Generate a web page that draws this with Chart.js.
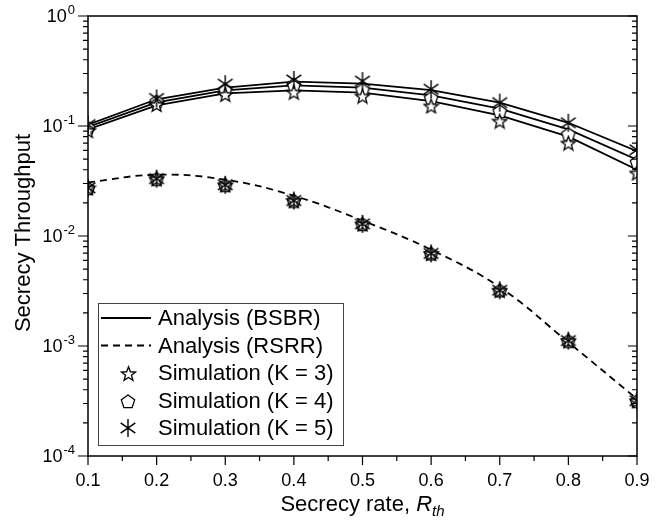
<!DOCTYPE html>
<html>
<head>
<meta charset="utf-8">
<script src="https://cdn.jsdelivr.net/npm/chart.js@4.4.0/dist/chart.umd.min.js"></script>
<style>
  html, body { margin: 0; padding: 0; background: #fff; }
  #wrap { position: relative; width: 662px; height: 527px; }
</style>
</head>
<body>
<div id="wrap"><canvas id="chart"></canvas></div>
<script>
// Secrecy throughput vs secrecy rate (log y axis)

const rates = [0.1, 0.2, 0.3, 0.4, 0.5, 0.6, 0.7, 0.8, 0.9];

// Analysis (BSBR), one curve per K
const bsbrK3 = [0.093, 0.154, 0.198, 0.211, 0.201, 0.168, 0.125, 0.080, 0.0401];
const bsbrK4 = [0.098, 0.164, 0.211, 0.234, 0.223, 0.190, 0.144, 0.093, 0.0494];
const bsbrK5 = [0.103, 0.175, 0.223, 0.253, 0.243, 0.212, 0.163, 0.107, 0.0589];

// Analysis (RSRR)
const rsrr = [0.0307, 0.0361, 0.0325, 0.0232, 0.0138, 0.0075, 0.00342, 0.00108, 0.00033];

// Simulation points
const simBsbrK3 = [0.091, 0.157, 0.194, 0.203, 0.187, 0.152, 0.111, 0.070, 0.0374];
const simBsbrK4 = [0.097, 0.168, 0.215, 0.239, 0.215, 0.181, 0.137, 0.085, 0.0474];
const simBsbrK5 = [0.103, 0.178, 0.240, 0.262, 0.256, 0.216, 0.163, 0.107, 0.0608];
const simRsrr = [0.0274, 0.0332, 0.0292, 0.0210, 0.0129, 0.00695, 0.00321, 0.00112, 0.000318];

// Axis ticks
const xTicks = [0.1, 0.2, 0.3, 0.4, 0.5, 0.6, 0.7, 0.8, 0.9];
const xMinorTicks = [0.15, 0.25, 0.35, 0.45, 0.55, 0.65, 0.75, 0.85];
const yExponents = [-4, -3, -2, -1, 0];

const legendLabels = ['Analysis (BSBR)', 'Analysis (RSRR)', 'Simulation (K = 3)', 'Simulation (K = 4)', 'Simulation (K = 5)'];

const FONT = "'Liberation Sans', Arial, sans-serif";
Chart.defaults.font.family = FONT;
Chart.defaults.color = '#000';

// Marker images
function makeMarker(kind, size) {
    const c = document.createElement('canvas');
    c.width = size; c.height = size;
    const g = c.getContext('2d');
    const cx = size / 2, cy = size / 2, r = size / 2 - 1;
    g.strokeStyle = '#000';
    g.fillStyle = '#fff';
    g.lineWidth = 1.3;
    g.lineJoin = 'miter';
    g.beginPath();
    if (kind === 'star') {
        for (let i = 0; i < 10; i++) {
            const a = -Math.PI / 2 + i * Math.PI / 5;
            const rr = i % 2 === 0 ? r : r * 0.42;
            const px = cx + rr * Math.cos(a), py = cy + 0.8 + rr * Math.sin(a);
            i === 0 ? g.moveTo(px, py) : g.lineTo(px, py);
        }
        g.closePath();
        g.fill();
        g.stroke();
    } else if (kind === 'pentagon') {
        for (let i = 0; i < 5; i++) {
            const a = -Math.PI / 2 + i * 2 * Math.PI / 5;
            const px = cx + r * Math.cos(a), py = cy + r * Math.sin(a) + 1;
            i === 0 ? g.moveTo(px, py) : g.lineTo(px, py);
        }
        g.closePath();
        g.fill();
        g.stroke();
    } else {
        // six-armed asterisk
        g.lineWidth = 1.4;
        [90, 35, 145].forEach(deg => {
            const a = deg * Math.PI / 180;
            g.moveTo(cx - r * Math.cos(a), cy - r * Math.sin(a));
            g.lineTo(cx + r * Math.cos(a), cy + r * Math.sin(a));
        });
        g.stroke();
    }
    return c;
}

const starImg = makeMarker('star', 17);
const pentImg = makeMarker('pentagon', 16);
const astImg = makeMarker('asterisk', 20);

const pts = arr => rates.map((r, i) => ({ x: r, y: arr[i] }));

function lineSet(arr, dashed) {
    return {
        data: pts(arr),
        borderColor: '#000',
        borderWidth: 1.8,
        borderDash: dashed ? [7, 5] : [],
        pointRadius: 0,
        tension: dashed ? 0.4 : 0,
        fill: false,
        order: 5
    };
}

function simSet(arr, img, order) {
    return {
        data: pts(arr),
        showLine: false,
        pointStyle: img,
        pointRadius: 5,
        order: order
    };
}

// frame, ticks, tick labels, titles, legend
const decorations = {
    id: 'decorations',
    afterDraw(chart) {
        const { ctx, chartArea: a, scales: { x, y } } = chart;
        ctx.save();
        ctx.strokeStyle = '#000';
        ctx.fillStyle = '#000';

        // frame
        ctx.lineWidth = 1.5;
        ctx.strokeRect(a.left, a.top, a.right - a.left, a.bottom - a.top);

        // y ticks: outward on the left, inward on the right
        ctx.lineWidth = 1.2;
        ctx.beginPath();
        yExponents.forEach((e, k) => {
            const py = y.getPixelForValue(Math.pow(10, e));
            ctx.moveTo(a.left - 10, py); ctx.lineTo(a.left, py);
            ctx.moveTo(a.right - 9, py); ctx.lineTo(a.right, py);
            if (k < yExponents.length - 1) {
                for (let m = 2; m <= 9; m++) {
                    const pm = y.getPixelForValue(m * Math.pow(10, e));
                    ctx.moveTo(a.left - 5, pm); ctx.lineTo(a.left, pm);
                    ctx.moveTo(a.right - 5, pm); ctx.lineTo(a.right, pm);
                }
            }
        });
        // x ticks: outward at the bottom
        xTicks.forEach(v => {
            const px = x.getPixelForValue(v);
            ctx.moveTo(px, a.bottom); ctx.lineTo(px, a.bottom + 9);
        });
        xMinorTicks.forEach(v => {
            const px = x.getPixelForValue(v);
            ctx.moveTo(px, a.bottom); ctx.lineTo(px, a.bottom + 5);
        });
        ctx.stroke();

        // y tick labels 10^e
        yExponents.forEach(e => {
            const py = y.getPixelForValue(Math.pow(10, e));
            const exp = e === 0 ? '0' : '-' + Math.abs(e);
            ctx.font = '13px ' + FONT;
            const ew = ctx.measureText(exp).width;
            const right = a.left - 13;
            ctx.textAlign = 'left';
            ctx.textBaseline = 'middle';
            ctx.fillText(exp, right - ew, py - 6);
            ctx.font = '18px ' + FONT;
            ctx.textAlign = 'right';
            ctx.fillText('10', right - ew - 1, py + 1);
        });

        // y title
        ctx.save();
        ctx.translate(24, (a.top + a.bottom) / 2 - 3);
        ctx.rotate(-Math.PI / 2);
        ctx.font = '22px ' + FONT;
        ctx.textAlign = 'center';
        ctx.textBaseline = 'middle';
        ctx.fillText('Secrecy Throughput', 0, 0);
        ctx.restore();

        // x title: "Secrecy rate, R_th"
        const t1 = 'Secrecy rate, ';
        ctx.textAlign = 'left';
        ctx.textBaseline = 'alphabetic';
        ctx.font = '22px ' + FONT;
        const w1 = ctx.measureText(t1).width;
        ctx.font = 'italic 22px ' + FONT;
        const w2 = ctx.measureText('R').width;
        ctx.font = 'italic 15px ' + FONT;
        const w3 = ctx.measureText('th').width;
        const tx = (a.left + a.right) / 2 - (w1 + w2 + w3) / 2;
        const ty = 511;
        ctx.font = '22px ' + FONT;
        ctx.fillText(t1, tx, ty);
        ctx.font = 'italic 22px ' + FONT;
        ctx.fillText('R', tx + w1, ty);
        ctx.font = 'italic 15px ' + FONT;
        ctx.fillText('th', tx + w1 + w2, ty + 5);

        // legend
        const bx = 98.5, by = 303.5, bw = 245, bh = 142;
        ctx.fillStyle = '#fff';
        ctx.fillRect(bx, by, bw, bh);
        ctx.strokeStyle = '#444';
        ctx.lineWidth = 1;
        ctx.strokeRect(bx, by, bw, bh);
        ctx.strokeStyle = '#000';
        ctx.fillStyle = '#000';
        const rows = [318, 345.5, 373, 400.5, 428];
        ctx.lineWidth = 1.8;
        ctx.beginPath();
        ctx.moveTo(101, rows[0]); ctx.lineTo(151, rows[0]);
        ctx.stroke();
        ctx.setLineDash([7, 5]);
        ctx.beginPath();
        ctx.moveTo(101, rows[1]); ctx.lineTo(151, rows[1]);
        ctx.stroke();
        ctx.setLineDash([]);
        [starImg, pentImg, astImg].forEach((img, i) => {
            ctx.drawImage(img, Math.round(128 - img.width / 2), Math.round(rows[i + 2] - img.height / 2));
        });
        ctx.font = '22px ' + FONT;
        ctx.textAlign = 'left';
        ctx.textBaseline = 'middle';
        legendLabels.forEach((txt, i) => ctx.fillText(txt, 158, rows[i] + 1));

        ctx.restore();
    }
};

new Chart(document.getElementById('chart'), {
    type: 'line',
    data: {
        datasets: [
            lineSet(bsbrK3, false),
            lineSet(bsbrK4, false),
            lineSet(bsbrK5, false),
            lineSet(rsrr, true),
            simSet(simBsbrK4, pentImg, 3),
            simSet(simRsrr, pentImg, 3),
            simSet(simBsbrK3, starImg, 2),
            simSet(simRsrr, starImg, 2),
            simSet(simBsbrK5, astImg, 1),
            simSet(simRsrr, astImg, 1)
        ]
    },
    options: {
        responsive: true,
        maintainAspectRatio: false,
        animation: false,
        layout: { padding: { left: 0, top: 16, right: 25, bottom: 0 } },
        plugins: {
            legend: { display: false },
            tooltip: { enabled: false }
        },
        scales: {
            x: {
                type: 'linear',
                min: 0.1,
                max: 0.9,
                grid: { display: false },
                border: { display: false },
                ticks: {
                    stepSize: 0.1,
                    autoSkip: false,
                    maxRotation: 0,
                    padding: 6,
                    font: { size: 18 },
                    color: '#000',
                    callback: v => v.toFixed(1)
                },
                afterFit: s => { s.height = 71; }
            },
            y: {
                type: 'logarithmic',
                min: 1e-4,
                max: 1,
                grid: { display: false },
                border: { display: false },
                ticks: { display: false },
                afterFit: s => { s.width = 88; }
            }
        }
    },
    plugins: [decorations]
});
</script>
</body>
</html>
